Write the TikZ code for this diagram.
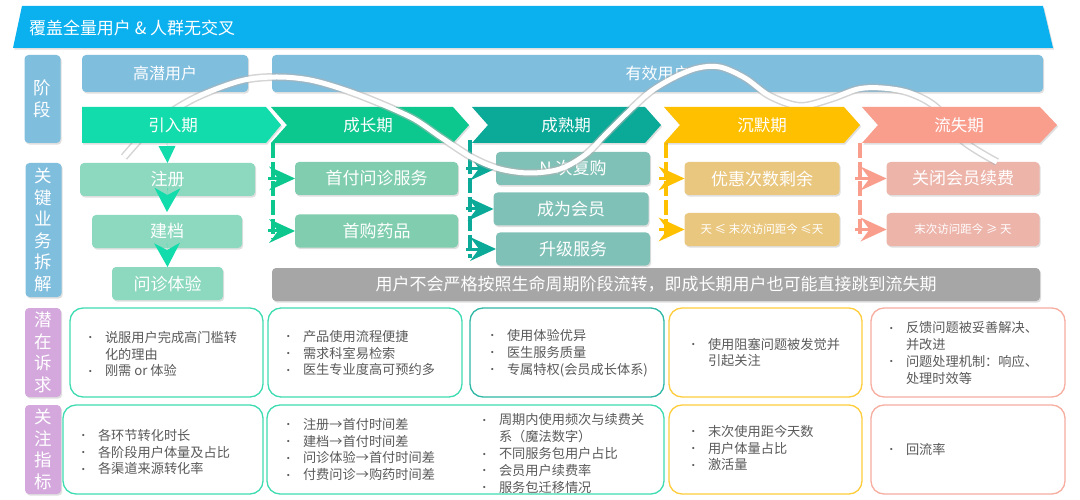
\documentclass[tikz,border=0pt]{standalone}
\usepackage{fontspec}
\setmainfont{Noto Sans CJK SC}
\usetikzlibrary{arrows.meta,shadows}
\definecolor{banner}{HTML}{0BB0EE}
\definecolor{lblue}{HTML}{80BEDE}
\definecolor{lpurple}{HTML}{D4A8DD}
\definecolor{cA}{HTML}{12DCAB}
\definecolor{cB}{HTML}{0CC78E}
\definecolor{cC}{HTML}{0AA998}
\definecolor{cD}{HTML}{FFC000}
\definecolor{cE}{HTML}{F99D8D}
\definecolor{lA}{HTML}{8CD9BF}
\definecolor{lB}{HTML}{80CEAF}
\definecolor{lC}{HTML}{80C1B7}
\definecolor{lD}{HTML}{EAC77F}
\definecolor{lE}{HTML}{EDB4AA}
\definecolor{barg}{HTML}{A6A6A6}
\definecolor{bA}{HTML}{3EDCB2}
\definecolor{bC}{HTML}{2FB8A5}
\definecolor{bD}{HTML}{FFCD3C}
\definecolor{bE}{HTML}{F7ADA0}
\definecolor{bodyg}{HTML}{5A5A5A}
\newcommand{\mybul}{\makebox[20pt][l]{\raisebox{0.5pt}{\fontsize{10.5}{10}\selectfont •}}}
\newcommand{\myind}{\hspace*{20pt}}
\begin{document}
\begin{tikzpicture}[x=1pt,y=-1pt,
  every node/.style={inner sep=0pt, outer sep=0pt},
  shad/.style={drop shadow={shadow xshift=1.2pt, shadow yshift=-1.6pt, opacity=0.25}},
  pill/.style={rounded corners=4pt, shad, text=white},
  lbl/.style={pill, minimum width=36pt, font=\fontsize{17.5}{21.5}\selectfont, align=center},
  sub/.style={pill, minimum height=33pt, font=\fontsize{17}{20}\selectfont},
  stg/.style={text=white, font=\fontsize{16.5}{20}\selectfont},
  card/.style={draw=#1, line width=1.3pt, rounded corners=13pt, fill=white, minimum height=89pt},
  body/.style={text=bodyg, font=\fontsize{13.2}{16.8}\selectfont, anchor=west, align=left},
  vline/.style={draw=#1, line width=4.5pt, dash pattern=on 15pt off 4pt, shorten >=8pt},
  hd/.style={draw=#1, line width=3pt, -{Stealth[length=26pt,width=24pt,inset=9pt,line width=0pt]}},
  dn/.style={draw=#1, line width=0.1pt, -{Stealth[length=24pt,width=26pt,inset=7pt,line width=0pt]}},
]
\useasboundingbox (0,0) rectangle (1080,500);
\fill[white] (0,0) rectangle (1080,500);

% banner
\fill[banner, shad] (22,6) -- (1043,6) -- (1053,48) -- (13,48) -- cycle;
\node[anchor=west, text=white, font=\fontsize{17}{20}\selectfont] (title) at (29,28) {覆盖全量用户 \& 人群无交叉};

% side labels
\node[lbl, fill=lblue, minimum height=88pt] (l1) at (42.5,99) {阶\\段};
\node[lbl, fill=lblue, minimum height=134pt] (l2) at (43.5,230) {关\\键\\业\\务\\拆\\解};
\node[lbl, fill=lpurple, minimum height=89pt] (l3) at (43,352.5) {潜\\在\\诉\\求};
\node[lbl, fill=lpurple, minimum height=89pt] (l4) at (43,449.5) {关\\注\\指\\标};

% user groups
\node[pill, fill=lblue, minimum width=166pt, minimum height=37pt, font=\fontsize{16}{19}\selectfont] (gq) at (165,73.5) {高潜用户};
\node[pill, fill=lblue, minimum width=771pt, minimum height=37pt, font=\fontsize{16}{19}\selectfont] (yx) at (657.5,73.5) {有效用户};

% stage chevrons 2-3 (under the curve)
\fill[cB, shad] (271,107) -- (453,107) -- (469,125) -- (453,143) -- (271,143) -- (287,125) -- cycle;
\fill[cC, shad] (472,107) -- (645,107) -- (661,125) -- (645,143) -- (472,143) -- (488,125) -- cycle;
\node[stg] (st2) at (368,125) {成长期};
\node[stg] (st3) at (566,125) {成熟期};

% key business boxes
\node[sub, fill=lA, minimum width=175pt] (zc) at (167.5,179.5) {注册};
\node[sub, fill=lA, minimum width=150pt] (jd) at (167,231.5) {建档};
\node[sub, fill=lA, minimum width=111pt] (wd) at (167.5,283.5) {问诊体验};
\node[sub, fill=lB, minimum width=163pt] (fs) at (376.5,178.5) {首付问诊服务};
\node[sub, fill=lB, minimum width=163pt] (gy) at (376.5,231) {首购药品};
\node[sub, fill=lC, minimum width=154pt] (nf) at (573,168.5) {N 次复购};
\node[sub, fill=lC, minimum width=155pt] (hy) at (571,209) {成为会员};
\node[sub, fill=lC, minimum width=154pt] (sj) at (573,249) {升级服务};
\node[sub, fill=lD, minimum width=155pt] (yh) at (762,178.5) {优惠次数剩余};
\node[sub, fill=lD, minimum width=155pt, font=\fontsize{11.5}{14}\selectfont] (tt) at (762,229.5) {天 ≤ 末次访问距今 ≤天};
\node[sub, fill=lE, minimum width=153pt] (gb) at (963,178.5) {关闭会员续费};
\node[sub, fill=lE, minimum width=153pt, font=\fontsize{11.5}{14}\selectfont] (mc) at (963,229.5) {末次访问距今 ≥ 天};
\node[sub, fill=barg, minimum width=768pt] (bar) at (656,284.5) {用户不会严格按照生命周期阶段流转，即成长期用户也可能直接跳到流失期};

% connectors
\coordinate (ys) at (167,143);
\draw[cA, line width=0.1pt, -{Triangle[length=17pt,width=17pt,line width=0pt]}] (ys) -- (zc.north);
\draw[dn=cA] ([yshift=8pt]zc.south) -- ([yshift=3pt]jd.north);
\draw[dn=cA] ([yshift=5pt]jd.south) -- (wd.north);

\coordinate (v2) at (273,143); \coordinate (a2) at (268,143);
\draw[vline=cB] (v2) -- (v2 |- gy.south);
\draw[hd=cB] (a2 |- fs.west) -- (fs.west);
\draw[hd=cB] (a2 |- gy.west) -- (gy.west);

\coordinate (v3) at (470,140); \coordinate (a3) at (466,140);
\draw[vline=cC] (v3) -- (v3 |- sj.south);
\draw[hd=cC] (a3 |- nf.west) -- (nf.west);
\draw[hd=cC] (a3 |- hy.west) -- (hy.west);
\draw[hd=cC] (a3 |- sj.west) -- (sj.west);

\coordinate (v4) at (666,143); \coordinate (a4) at (659,143);
\draw[vline=cD] (v4) -- (v4 |- tt.south);
\draw[hd=cD] (a4 |- yh.west) -- (yh.west);
\draw[hd=cD] (a4 |- tt.west) -- (tt.west);

\coordinate (v5) at (860,143); \coordinate (a5) at (855,143);
\draw[vline=cE] (v5) -- (v5 |- mc.south);
\draw[hd=cE] (a5 |- gb.west) -- (gb.west);
\draw[hd=cE] (a5 |- mc.west) -- (mc.west);

% needs row
\node[card=bA, minimum width=193pt] (r31) at (166.5,352.5) {};
\node[card=bA, minimum width=194pt] (r32) at (365,352.5) {};
\node[card=bC, minimum width=194pt] (r33) at (567,352.5) {};
\node[card=bD, minimum width=193pt] (r34) at (765.5,352.5) {};
\node[card=bE, minimum width=194pt] (r35) at (968,352.5) {};
\node[body] (t31) at (85,354) {\mybul 说服用户完成高门槛转\\\myind 化的理由\\\mybul 刚需 or 体验};
\node[body] (t32) at (283,353) {\mybul 产品使用流程便捷\\\mybul 需求科室易检索\\\mybul 医生专业度高可预约多};
\node[body] (t33) at (487,353) {\mybul 使用体验优异\\\mybul 医生服务质量\\\mybul 专属特权(会员成长体系)};
\node[body] (t34) at (688,352.5) {\mybul 使用阻塞问题被发觉并\\\myind 引起关注};
\node[body] (t35) at (886,353) {\mybul 反馈问题被妥善解决、\\\myind 并改进\\\mybul 问题处理机制：响应、\\\myind 处理时效等};

% metrics row
\node[card=bA, minimum width=200pt] (r41) at (163,449.5) {};
\node[card=bA, minimum width=397pt] (r42) at (465.5,449.5) {};
\node[card=bD, minimum width=193pt] (r43) at (765.5,449.5) {};
\node[card=bE, minimum width=194pt] (r44) at (968,449.5) {};
\node[body] (t41) at (78,452) {\mybul 各环节转化时长\\\mybul 各阶段用户体量及占比\\\mybul 各渠道来源转化率};
\node[body] (t42) at (283,449.5) {\mybul 注册→首付时间差\\\mybul 建档→首付时间差\\\mybul 问诊体验→首付时间差\\\mybul 付费问诊→购药时间差};
\node[body] (t42b) at (479,453.5) {\mybul 周期内使用频次与续费关\\\myind 系（魔法数字）\\\mybul 不同服务包用户占比\\\mybul 会员用户续费率\\\mybul 服务包迁移情况};
\node[body] (t43) at (688,448) {\mybul 末次使用距今天数\\\mybul 用户体量占比\\\mybul 激活量};
\node[body] (t44) at (886,449) {\mybul 回流率};

% life-cycle curve
\def\curvepts{(124,157) (155,124) (193,99) (240,81) (276,77) (310,80) (345,90) (379,103) (414,119) (442,138) (473,158) (500,169) (530,173) (560,169) (585,155) (605,135) (626,114) (650,92) (675,77) (698,68) (720,67) (745,78) (770,96) (800,106) (830,99) (858,89) (882,88) (910,93) (937,108) (962,140) (997,162)}
\draw[line width=8pt, black!30, opacity=0.55] plot[smooth, tension=0.55] coordinates {\curvepts};
\draw[line width=5pt, white] plot[smooth, tension=0.55] coordinates {\curvepts};

% chevrons drawn over the curve
\fill[cA, shad] (82,107) -- (266,107) -- (281,125) -- (266,143) -- (82,143) -- cycle;
\fill[cD, shad] (664,107) -- (844,107) -- (860,125) -- (844,143) -- (664,143) -- (680,125) -- cycle;
\fill[cE, shad] (862,107) -- (1040,107) -- (1057,125) -- (1040,143) -- (862,143) -- (878,125) -- cycle;
\node[stg] (st1) at (173,125) {引入期};
\node[stg] (st4) at (762,125) {沉默期};
\node[stg] (st5) at (959,125) {流失期};
\end{tikzpicture}
\end{document}
